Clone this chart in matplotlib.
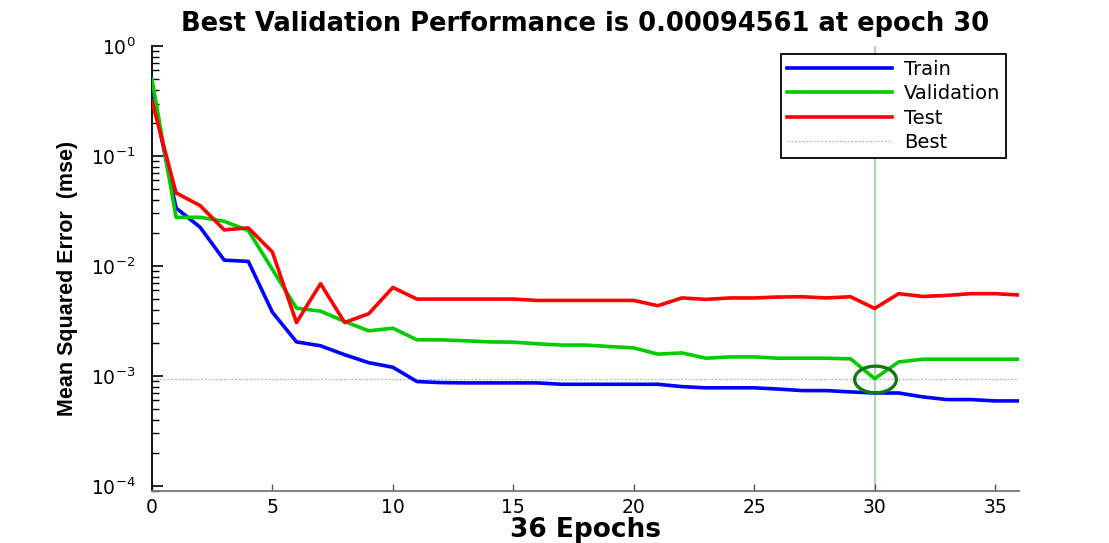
import numpy as np
import matplotlib
matplotlib.use("Agg")
import matplotlib.pyplot as plt
from matplotlib.path import Path
from matplotlib.ticker import LogLocator, NullFormatter

# data (mse per epoch)
epochs = np.arange(0, 37)
train = [0.38, 0.0337, 0.0225, 0.0113, 0.0110, 0.0038, 0.00204, 0.00188, 0.00156, 0.00132,
         0.0012, 0.00089, 0.00087, 0.000865, 0.000865, 0.000865, 0.000865, 0.00084, 0.00084,
         0.00084, 0.00084, 0.00084, 0.0008, 0.00078, 0.00078, 0.00078, 0.00076, 0.000736,
         0.000736, 0.000716, 0.0007, 0.0007, 0.000645, 0.00061, 0.00061, 0.000593, 0.000593]
valid = [0.50, 0.0277, 0.0277, 0.0255, 0.021, 0.0093, 0.00414, 0.00388, 0.00313, 0.00257,
         0.00272, 0.00213, 0.00213, 0.00209, 0.00204, 0.00203, 0.00196, 0.00191, 0.00191,
         0.00185, 0.0018, 0.00158, 0.00162, 0.00145, 0.00149, 0.00149, 0.00145, 0.00145,
         0.00145, 0.00143, 0.00094561, 0.00134, 0.00142, 0.00142, 0.00142, 0.00142, 0.00142]
test = [0.316, 0.0462, 0.0354, 0.0213, 0.0222, 0.0134, 0.00306, 0.0069, 0.00306, 0.00368,
        0.00638, 0.0050, 0.0050, 0.0050, 0.0050, 0.0050, 0.00486, 0.00486, 0.00486, 0.00486,
        0.00486, 0.00435, 0.00512, 0.00497, 0.00512, 0.00512, 0.00522, 0.00525, 0.00512,
        0.00525, 0.00411, 0.0056, 0.00528, 0.0054, 0.0056, 0.0056, 0.00544]
best_epoch = 30
best_perf = 0.00094561
xticks = [0, 5, 10, 15, 20, 25, 30, 35]

#figure and axes
fig = plt.figure(figsize=(11.09, 5.43), dpi=100)
ax = fig.add_axes([0.137, 0.0958, 0.782, 0.8195])

# best markers
ax.axvline(best_epoch, color='#b2d6b2', lw=1.6, zorder=1)
ax.axhline(best_perf, color='#9cc89c', lw=0.9, ls=(0, (1.5, 1.5)), zorder=1)

ax.plot(epochs, train, color='#0000ff', lw=2.6, label='Train', zorder=3)
ax.plot(epochs, valid, color='#00cc00', lw=2.6, label='Validation', zorder=3)
ax.plot(epochs, test, color='#ff0000', lw=2.6, label='Test', zorder=3)
ax.plot([], [], color='#9cc89c', lw=0.9, ls=(0, (1.5, 1.5)), label='Best')

#ellipse around the best point (screenshot is stretched)
th = np.linspace(0, 2*np.pi, 80)
ell = Path(np.column_stack([np.cos(th), 0.64*np.sin(th)]))
ax.plot([best_epoch], [best_perf], marker=ell, ms=30, mfc='none', mec='#107a10', mew=2.4, zorder=4)

ax.set_yscale('log')
ax.set_ylim(9.0e-5, 1)
ax.set_xlim(0, 36)
ax.set_xticks(xticks)
ax.yaxis.set_major_locator(LogLocator(base=10, numticks=10))
ax.yaxis.set_minor_locator(LogLocator(base=10, subs=np.arange(2, 10), numticks=10))
ax.yaxis.set_minor_formatter(NullFormatter())
ax.tick_params(axis='y', which='major', direction='in', length=8, width=1.2, pad=12, labelsize=13.5)
ax.tick_params(axis='y', which='minor', direction='in', length=5, width=1)
ax.tick_params(axis='x', which='major', direction='in', length=5, width=1, pad=5, labelsize=13.5, color='#555555')
ax.spines['top'].set_visible(False)
ax.spines['right'].set_visible(False)
ax.spines['left'].set_linewidth(1.3)
ax.spines['bottom'].set_color('#777777')
ax.spines['bottom'].set_linewidth(1.3)

ax.set_title('Best Validation Performance is 0.00094561 at epoch 30', fontsize=18.5,
             fontweight='bold', pad=11)
ax.set_xlabel('36 Epochs', fontsize=19, fontweight='bold', labelpad=0)
fig.text(68/1109, 1 - 278/543, 'Mean Squared Error  (mse)', rotation=90, ha='center', va='center',
         fontsize=15.5, fontweight='bold', family=['Liberation Sans Narrow', 'Liberation Sans'])

leg = ax.legend(loc='upper right', bbox_to_anchor=(0.985, 0.982), fontsize=14, handlelength=5.4,
                labelspacing=0.28, handletextpad=0.6, borderpad=0.3, fancybox=False, framealpha=1,
                edgecolor='black', borderaxespad=0)
leg.get_frame().set_linewidth(1.3)

plt.savefig('out.png', dpi=100)
